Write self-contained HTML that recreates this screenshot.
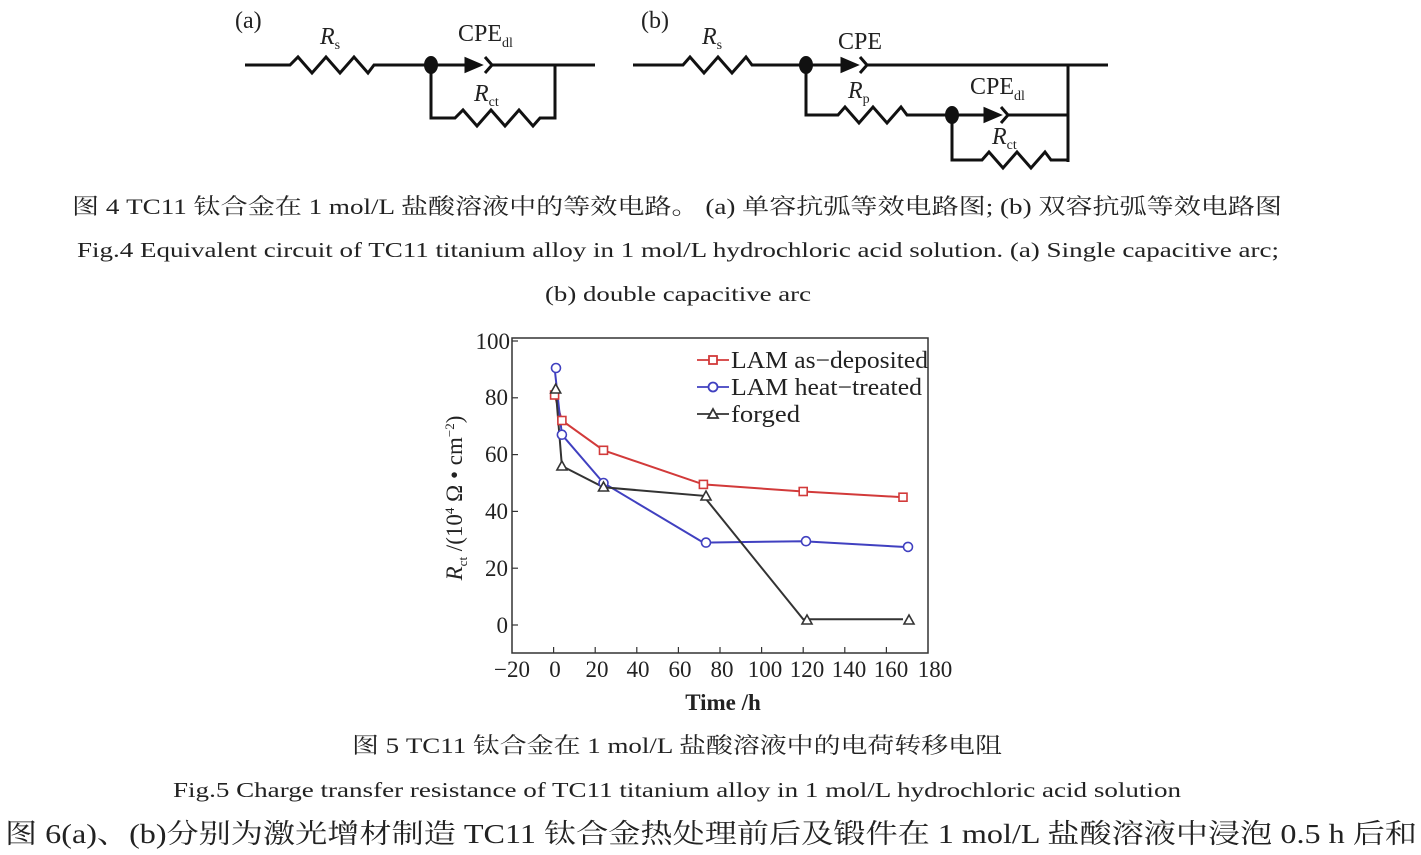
<!DOCTYPE html>
<html><head><meta charset="utf-8"><style>
html,body{margin:0;padding:0;background:#fff;}
svg{display:block;}
text{font-family:"Liberation Serif","Noto Serif CJK SC",serif;fill:#222;}
</style></head><body>
<svg width="1421" height="855" viewBox="0 0 1421 855" xmlns="http://www.w3.org/2000/svg">
<g stroke="#111" stroke-width="3" fill="none" stroke-linejoin="miter">
<polyline points="245,65 290,65 298,57 312,73 326,57 340,73 354,57 368,73 374,65 431,65 470,65"/>
<polygon points="466,59 480,65 466,71" fill="#111"/>
<polyline points="485,57 492,65 485,73"/>
<polyline points="492,65 595,65"/>
<polyline points="431,65 431,118 455,118 463,110 477,126 491,110 505,126 519,110 533,126 540,118 555,118 555,65"/>
<polyline points="633,65 683,65 690,57 704,73 718,57 732,73 746,57 752,65 806,65 845,65"/>
<polygon points="842,59 856,65 842,71" fill="#111"/>
<polyline points="860,57 867,65 860,73"/>
<polyline points="867,65 1108,65"/>
<polyline points="1068,65 1068,162"/>
<polyline points="806,65 806,115 838,115 845,107 859,123 873,107 887,123 901,107 907,115 952,115 988,115"/>
<polygon points="985,109 999,115 985,121" fill="#111"/>
<polyline points="1001,107 1008,115 1001,123"/>
<polyline points="1008,115 1068,115"/>
<polyline points="952,115 952,160 982,160 989,152 1003,168 1017,152 1031,168 1045,152 1051,160 1068,160"/>
</g>
<ellipse cx="431" cy="65" rx="7" ry="9" fill="#111"/>
<ellipse cx="806" cy="65" rx="7" ry="9" fill="#111"/>
<ellipse cx="952" cy="115" rx="7" ry="9" fill="#111"/>
<g font-size="24">
<text x="235" y="28">(a)</text>
<text x="320" y="44" font-style="italic">R<tspan font-size="14" font-style="normal" dy="5">s</tspan></text>
<text x="458" y="41">CPE<tspan font-size="14" dy="6">dl</tspan></text>
<text x="474" y="101" font-style="italic">R<tspan font-size="14" font-style="normal" dy="5">ct</tspan></text>
<text x="641" y="28">(b)</text>
<text x="702" y="44" font-style="italic">R<tspan font-size="14" font-style="normal" dy="5">s</tspan></text>
<text x="838" y="49">CPE</text>
<text x="848" y="98" font-style="italic">R<tspan font-size="14" font-style="normal" dy="5">p</tspan></text>
<text x="970" y="94">CPE<tspan font-size="14" dy="6">dl</tspan></text>
<text x="992" y="144" font-style="italic">R<tspan font-size="14" font-style="normal" dy="5">ct</tspan></text>
</g>
<text x="72" y="214" font-size="22" textLength="1210" lengthAdjust="spacingAndGlyphs">图 4  TC11 钛合金在 1 mol/L 盐酸溶液中的等效电路。 (a) 单容抗弧等效电路图; (b) 双容抗弧等效电路图</text>
<text x="77" y="257" font-size="21" textLength="1202" lengthAdjust="spacingAndGlyphs">Fig.4  Equivalent circuit of TC11 titanium alloy in 1 mol/L hydrochloric acid solution. (a) Single capacitive arc;</text>
<text x="545" y="301" font-size="21" textLength="266" lengthAdjust="spacingAndGlyphs">(b) double capacitive arc</text>
<rect x="512" y="338" width="416" height="315" fill="none" stroke="#333" stroke-width="1.5"/>
<g stroke="#333" stroke-width="1.2">
<line x1="512" y1="625" x2="518" y2="625"/><line x1="512" y1="568.2" x2="518" y2="568.2"/><line x1="512" y1="511.4" x2="518" y2="511.4"/><line x1="512" y1="454.6" x2="518" y2="454.6"/><line x1="512" y1="397.8" x2="518" y2="397.8"/><line x1="512" y1="341" x2="518" y2="341"/>
<line x1="553.6" y1="653" x2="553.6" y2="647"/><line x1="595.2" y1="653" x2="595.2" y2="647"/><line x1="636.8" y1="653" x2="636.8" y2="647"/><line x1="678.4" y1="653" x2="678.4" y2="647"/><line x1="720" y1="653" x2="720" y2="647"/><line x1="761.6" y1="653" x2="761.6" y2="647"/><line x1="803.2" y1="653" x2="803.2" y2="647"/><line x1="844.8" y1="653" x2="844.8" y2="647"/><line x1="886.4" y1="653" x2="886.4" y2="647"/>
</g>
<g font-size="23" text-anchor="end">
<text x="508" y="633">0</text><text x="508" y="576">20</text><text x="508" y="519">40</text><text x="508" y="462">60</text><text x="508" y="405">80</text><text x="510" y="349">100</text>
</g>
<g font-size="23" text-anchor="middle">
<text x="512" y="677">−20</text><text x="555" y="677">0</text><text x="597" y="677">20</text><text x="638" y="677">40</text><text x="680" y="677">60</text><text x="722" y="677">80</text><text x="765" y="677">100</text><text x="807" y="677">120</text><text x="849" y="677">140</text><text x="891" y="677">160</text><text x="935" y="677">180</text>
<text x="723" y="710" font-weight="bold">Time /h</text>
</g>
<text transform="translate(462,498) rotate(-90)" font-size="23" text-anchor="middle"><tspan font-style="italic">R</tspan><tspan font-size="13" dy="5">ct</tspan><tspan dy="-5"> /(10</tspan><tspan font-size="13" dy="-8">4</tspan><tspan dy="8"> Ω • cm</tspan><tspan font-size="13" dy="-8">−2</tspan><tspan dy="8">)</tspan></text>
<g fill="none" stroke-width="2">
<polyline stroke="#d23a3a" points="554.6,395 561.9,420.5 603.5,450.3 703.4,484.4 803.2,491.5 903,497.2"/>
<polyline stroke="#4040c0" points="554.6,368 561.9,434.7 603.5,483 703.4,542.6 803.2,541.2 903,546.9"/>
<polyline stroke="#333" points="555.7,389.3 561.9,466 603.5,487.3 703.4,495.8 803.2,619.3 903,619.3"/>
</g>
<g fill="#fff" stroke="#d23a3a" stroke-width="1.6">
<rect x="550.6" y="391" width="8" height="8"/><rect x="557.9" y="416.5" width="8" height="8"/><rect x="599.5" y="446.3" width="8" height="8"/><rect x="699.4" y="480.4" width="8" height="8"/><rect x="799.2" y="487.5" width="8" height="8"/><rect x="899" y="493.2" width="8" height="8"/>
</g>
<g fill="#fff" stroke="#4040c0" stroke-width="1.6">
<circle cx="556" cy="368" r="4.5"/><circle cx="561.9" cy="434.7" r="4.5"/><circle cx="603.5" cy="483" r="4.5"/><circle cx="706" cy="542.6" r="4.5"/><circle cx="806" cy="541.2" r="4.5"/><circle cx="908" cy="546.9" r="4.5"/>
</g>
<g fill="#fff" stroke="#333" stroke-width="1.6">
<polygon points="555.7,384 560.7,393 550.7,393"/><polygon points="561.9,461 566.9,470 556.9,470"/><polygon points="603.5,482 608.5,491 598.5,491"/><polygon points="706,491 711,500 701,500"/><polygon points="807,615 812,624 802,624"/><polygon points="909,615 914,624 904,624"/>
</g>
<g stroke-width="1.8" fill="#fff">
<line x1="697" y1="360" x2="729" y2="360" stroke="#d23a3a"/><rect x="709" y="356" width="8" height="8" stroke="#d23a3a"/>
<line x1="697" y1="387" x2="729" y2="387" stroke="#4040c0"/><circle cx="713" cy="387" r="4.5" stroke="#4040c0"/>
<line x1="697" y1="414" x2="729" y2="414" stroke="#333"/><polygon points="713,409 718,418 708,418" stroke="#333"/>
</g>
<g font-size="24">
<text x="731" y="368" textLength="197" lengthAdjust="spacingAndGlyphs">LAM as−deposited</text>
<text x="731" y="395" textLength="191" lengthAdjust="spacingAndGlyphs">LAM heat−treated</text>
<text x="731" y="422" textLength="69" lengthAdjust="spacingAndGlyphs">forged</text>
</g>
<text x="352" y="753" font-size="22" textLength="650" lengthAdjust="spacingAndGlyphs">图 5  TC11 钛合金在 1 mol/L 盐酸溶液中的电荷转移电阻</text>
<text x="173" y="797" font-size="21" textLength="1008" lengthAdjust="spacingAndGlyphs">Fig.5  Charge transfer resistance of TC11 titanium alloy in 1 mol/L hydrochloric acid solution</text>
<text x="5" y="843" font-size="27" textLength="1412" lengthAdjust="spacingAndGlyphs">图 6(a)、(b)分别为激光增材制造 TC11 钛合金热处理前后及锻件在 1 mol/L 盐酸溶液中浸泡 0.5 h 后和</text>
</svg>
</body></html>
